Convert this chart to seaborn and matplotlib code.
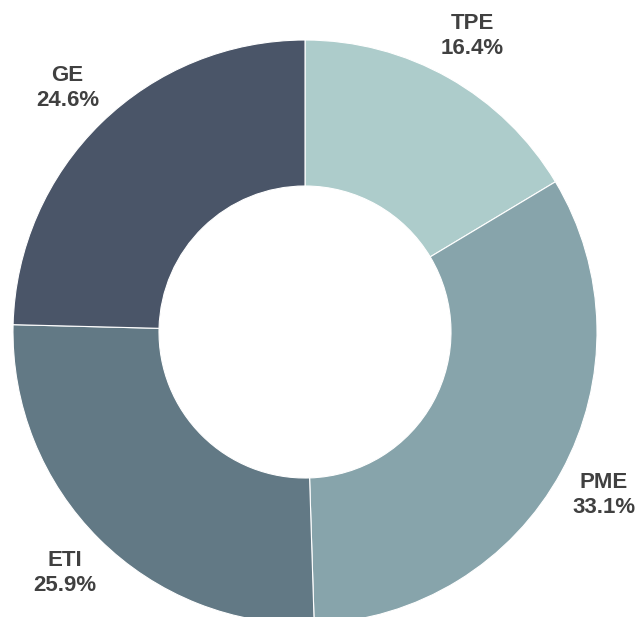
import matplotlib
matplotlib.use("Agg")
import matplotlib.pyplot as plt
import seaborn as sns

# =========================
# DATA
# =========================

categories = ["TPE", "PME", "ETI", "GE"]
shares = [16.4, 33.1, 25.9, 24.6]
colors = ["#adcccb", "#87a4ab", "#627985", "#4a5568"]

# =========================
# STYLE
# =========================

sns.set_theme(style="white")
plt.rcParams['font.family'] = ['Liberation Sans', 'DejaVu Sans']

fig = plt.figure(figsize=(6.42, 6.17), dpi=100)
ax = fig.add_axes([0, 0, 1, 1])

labels = [f"{c}\n{v:.1f}%" for c, v in zip(categories, shares)]

wedges, texts = ax.pie(
    shares,
    labels=labels,
    colors=colors,
    startangle=90,
    counterclock=False,
    center=(305, 285),
    radius=292,
    labeldistance=1.165,
    wedgeprops=dict(width=146, edgecolor="white", linewidth=0.8),
    textprops=dict(fontsize=16, fontweight="bold", color="#404040",
                   ha="center", va="center", linespacing=1.25),
)
for t in texts:
    t.set_horizontalalignment("center")

ax.set_xlim(0, 642)
ax.set_ylim(0, 617)
ax.set_aspect("equal")
ax.axis("off")

plt.savefig("out.png", dpi=100)
